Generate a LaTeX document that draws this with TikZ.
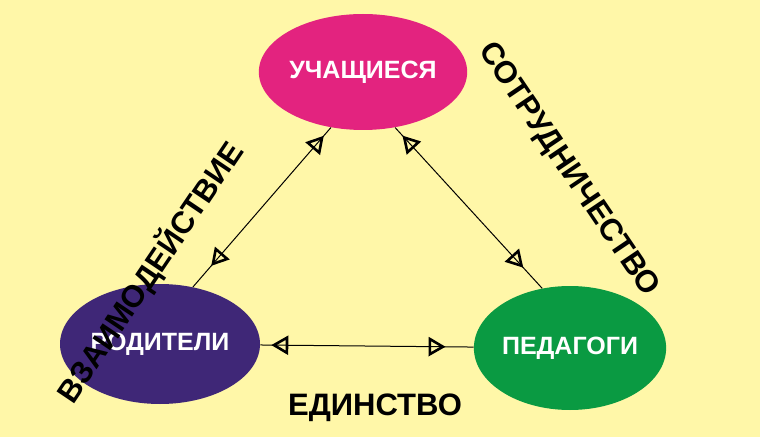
\documentclass[tikz,border=0pt]{standalone}
\usepackage{fontspec}
\setmainfont{Liberation Sans}
\usetikzlibrary{arrows.meta,decorations.markings,shapes.geometric}
\definecolor{bgyellow}{HTML}{FFF7A8}
\definecolor{pupils}{HTML}{E3237F}
\definecolor{parents}{HTML}{3F2777}
\definecolor{teachers}{HTML}{0A9A42}
\begin{document}
\begin{tikzpicture}[
            x = 1pt, y = 1pt,
            semithick % line style
        ]

        \tikzstyle{group}=[
            ellipse, inner sep = 0pt,
            text = white,
            font = \bfseries\fontsize{25}{28}\selectfont
        ]
        \tikzstyle{link}=[
            line width = 1pt,
            postaction = {decorate},
            decoration = {markings,
                mark = at position 28pt with {\arrow{Triangle[open,reversed,length=17pt,width=19pt,line width=2.6pt]}},
                mark = at position -28pt with {\arrow{Triangle[open,length=17pt,width=19pt,line width=2.6pt]}}}
        ]
        \tikzstyle{caption}=[
            font = \bfseries\fontsize{31}{34}\selectfont
        ]

        \fill[bgyellow] (0,0) rectangle (760,437);
        \useasboundingbox (0,0) rectangle (760,437);

        \node[group, fill=pupils, minimum width=198pt, minimum height=116pt] (S) at (363,365) {УЧАЩИЕСЯ};
        \node[group, fill=parents, minimum width=200pt, minimum height=120pt] (P) at (160,93) {РОДИТЕЛИ};
        \node[group, fill=teachers, minimum width=190pt, minimum height=124pt] (T) at (570,89) {ПЕДАГОГИ};

        \draw[link] (S.240) -- (P.60);
        \draw[link] (S.300) -- (T.115);
        \draw[link] (P) -- (T);

        \node[caption, rotate=56] (W) at (150,165) {ВЗАИМОДЕЙСТВИЕ}; % placeholder y fixed below
        \node[caption, rotate=-56] (C) at (568,267) {СОТРУДНИЧЕСТВО};
        \node[caption] (E) at (375,29) {ЕДИНСТВО};
    \end{tikzpicture}
\end{document}
